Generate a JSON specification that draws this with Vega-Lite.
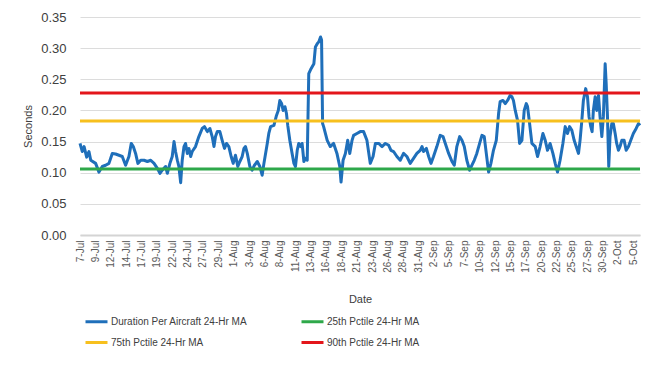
{
  "$schema": "https://vega.github.io/schema/vega-lite/v6.json",
  "width": 560,
  "height": 218,
  "autosize": {"type": "none"},
  "padding": {"left": 80, "top": 17, "right": 16, "bottom": 146},
  "background": "white",
  "config": {
    "font": "Liberation Sans",
    "view": {"stroke": null}
  },
  "datasets": {
    "duration": [
      {"hour":0,"seconds":0.147},{"hour":9,"seconds":0.134},{"hour":16,"seconds":0.142},{"hour":26,"seconds":0.125},{"hour":35,"seconds":0.134},{"hour":42,"seconds":0.120},{"hour":61,"seconds":0.115},{"hour":74,"seconds":0.101},{"hour":87,"seconds":0.110},{"hour":100,"seconds":0.112},
      {"hour":113,"seconds":0.115},{"hour":126,"seconds":0.131},{"hour":139,"seconds":0.130},{"hour":152,"seconds":0.128},{"hour":165,"seconds":0.126},{"hour":178,"seconds":0.112},{"hour":191,"seconds":0.126},{"hour":200,"seconds":0.147},{"hour":208,"seconds":0.142},{"hour":217,"seconds":0.131},
      {"hour":226,"seconds":0.115},{"hour":237,"seconds":0.120},{"hour":250,"seconds":0.120},{"hour":263,"seconds":0.118},{"hour":276,"seconds":0.120},{"hour":289,"seconds":0.115},{"hour":302,"seconds":0.107},{"hour":312,"seconds":0.099},{"hour":321,"seconds":0.104},{"hour":334,"seconds":0.110},
      {"hour":341,"seconds":0.099},{"hour":351,"seconds":0.115},{"hour":360,"seconds":0.126},{"hour":367,"seconds":0.150},{"hour":373,"seconds":0.134},{"hour":380,"seconds":0.120},{"hour":386,"seconds":0.110},{"hour":393,"seconds":0.084},{"hour":399,"seconds":0.120},{"hour":406,"seconds":0.142},
      {"hour":412,"seconds":0.147},{"hour":419,"seconds":0.131},{"hour":425,"seconds":0.139},{"hour":432,"seconds":0.126},{"hour":438,"seconds":0.134},{"hour":451,"seconds":0.142},{"hour":464,"seconds":0.158},{"hour":477,"seconds":0.171},{"hour":486,"seconds":0.174},{"hour":497,"seconds":0.166},
      {"hour":507,"seconds":0.171},{"hour":516,"seconds":0.158},{"hour":523,"seconds":0.142},{"hour":529,"seconds":0.158},{"hour":536,"seconds":0.166},{"hour":546,"seconds":0.166},{"hour":555,"seconds":0.152},{"hour":564,"seconds":0.139},{"hour":572,"seconds":0.147},{"hour":581,"seconds":0.142},
      {"hour":590,"seconds":0.126},{"hour":598,"seconds":0.115},{"hour":607,"seconds":0.128},{"hour":616,"seconds":0.110},{"hour":624,"seconds":0.118},{"hour":633,"seconds":0.126},{"hour":640,"seconds":0.139},{"hour":646,"seconds":0.142},{"hour":653,"seconds":0.131},{"hour":663,"seconds":0.110},
      {"hour":672,"seconds":0.104},{"hour":681,"seconds":0.112},{"hour":692,"seconds":0.118},{"hour":702,"seconds":0.110},{"hour":711,"seconds":0.096},{"hour":718,"seconds":0.115},{"hour":731,"seconds":0.147},{"hour":737,"seconds":0.163},{"hour":744,"seconds":0.174},{"hour":757,"seconds":0.176},
      {"hour":767,"seconds":0.192},{"hour":774,"seconds":0.200},{"hour":780,"seconds":0.216},{"hour":787,"seconds":0.211},{"hour":793,"seconds":0.200},{"hour":800,"seconds":0.206},{"hour":806,"seconds":0.195},{"hour":811,"seconds":0.176},{"hour":819,"seconds":0.152},{"hour":828,"seconds":0.131},
      {"hour":835,"seconds":0.115},{"hour":841,"seconds":0.110},{"hour":848,"seconds":0.136},{"hour":854,"seconds":0.147},{"hour":861,"seconds":0.142},{"hour":867,"seconds":0.147},{"hour":874,"seconds":0.118},{"hour":880,"seconds":0.123},{"hour":887,"seconds":0.120},{"hour":893,"seconds":0.259},
      {"hour":902,"seconds":0.267},{"hour":913,"seconds":0.275},{"hour":919,"seconds":0.302},{"hour":926,"seconds":0.307},{"hour":932,"seconds":0.310},{"hour":939,"seconds":0.318},{"hour":943,"seconds":0.313},{"hour":947,"seconds":0.179},{"hour":951,"seconds":0.174},{"hour":965,"seconds":0.152},
      {"hour":977,"seconds":0.142},{"hour":990,"seconds":0.147},{"hour":1003,"seconds":0.131},{"hour":1014,"seconds":0.110},{"hour":1019,"seconds":0.085},{"hour":1027,"seconds":0.120},{"hour":1036,"seconds":0.131},{"hour":1045,"seconds":0.152},{"hour":1053,"seconds":0.131},{"hour":1062,"seconds":0.152},
      {"hour":1068,"seconds":0.160},{"hour":1081,"seconds":0.163},{"hour":1094,"seconds":0.166},{"hour":1107,"seconds":0.166},{"hour":1120,"seconds":0.152},{"hour":1133,"seconds":0.115},{"hour":1144,"seconds":0.126},{"hour":1153,"seconds":0.147},{"hour":1166,"seconds":0.147},{"hour":1179,"seconds":0.142},
      {"hour":1192,"seconds":0.147},{"hour":1205,"seconds":0.144},{"hour":1214,"seconds":0.136},{"hour":1224,"seconds":0.134},{"hour":1237,"seconds":0.126},{"hour":1250,"seconds":0.120},{"hour":1263,"seconds":0.131},{"hour":1276,"seconds":0.126},{"hour":1289,"seconds":0.115},{"hour":1302,"seconds":0.123},
      {"hour":1315,"seconds":0.131},{"hour":1328,"seconds":0.136},{"hour":1335,"seconds":0.142},{"hour":1341,"seconds":0.134},{"hour":1352,"seconds":0.139},{"hour":1361,"seconds":0.126},{"hour":1370,"seconds":0.115},{"hour":1380,"seconds":0.126},{"hour":1393,"seconds":0.142},{"hour":1406,"seconds":0.160},
      {"hour":1417,"seconds":0.158},{"hour":1426,"seconds":0.147},{"hour":1439,"seconds":0.131},{"hour":1452,"seconds":0.118},{"hour":1461,"seconds":0.112},{"hour":1471,"seconds":0.142},{"hour":1482,"seconds":0.158},{"hour":1491,"seconds":0.152},{"hour":1500,"seconds":0.142},{"hour":1510,"seconds":0.120},
      {"hour":1521,"seconds":0.104},{"hour":1530,"seconds":0.112},{"hour":1539,"seconds":0.120},{"hour":1549,"seconds":0.131},{"hour":1560,"seconds":0.147},{"hour":1569,"seconds":0.160},{"hour":1578,"seconds":0.158},{"hour":1586,"seconds":0.131},{"hour":1595,"seconds":0.101},{"hour":1604,"seconds":0.115},
      {"hour":1614,"seconds":0.136},{"hour":1625,"seconds":0.152},{"hour":1634,"seconds":0.195},{"hour":1640,"seconds":0.214},{"hour":1651,"seconds":0.216},{"hour":1660,"seconds":0.211},{"hour":1669,"seconds":0.216},{"hour":1679,"seconds":0.224},{"hour":1686,"seconds":0.222},{"hour":1692,"seconds":0.216},
      {"hour":1699,"seconds":0.200},{"hour":1708,"seconds":0.184},{"hour":1716,"seconds":0.147},{"hour":1725,"seconds":0.152},{"hour":1734,"seconds":0.200},{"hour":1742,"seconds":0.211},{"hour":1747,"seconds":0.206},{"hour":1755,"seconds":0.179},{"hour":1764,"seconds":0.147},{"hour":1777,"seconds":0.142},
      {"hour":1786,"seconds":0.126},{"hour":1796,"seconds":0.142},{"hour":1807,"seconds":0.163},{"hour":1816,"seconds":0.152},{"hour":1825,"seconds":0.136},{"hour":1835,"seconds":0.147},{"hour":1846,"seconds":0.131},{"hour":1855,"seconds":0.115},{"hour":1864,"seconds":0.101},{"hour":1874,"seconds":0.120},
      {"hour":1885,"seconds":0.147},{"hour":1894,"seconds":0.174},{"hour":1903,"seconds":0.163},{"hour":1911,"seconds":0.174},{"hour":1920,"seconds":0.168},{"hour":1929,"seconds":0.152},{"hour":1937,"seconds":0.142},{"hour":1946,"seconds":0.131},{"hour":1952,"seconds":0.152},{"hour":1959,"seconds":0.184},
      {"hour":1965,"seconds":0.216},{"hour":1974,"seconds":0.235},{"hour":1981,"seconds":0.222},{"hour":1987,"seconds":0.190},{"hour":1994,"seconds":0.174},{"hour":1999,"seconds":0.166},{"hour":2004,"seconds":0.200},{"hour":2011,"seconds":0.222},{"hour":2017,"seconds":0.200},{"hour":2024,"seconds":0.224},
      {"hour":2030,"seconds":0.190},{"hour":2037,"seconds":0.158},{"hour":2043,"seconds":0.190},{"hour":2050,"seconds":0.275},{"hour":2054,"seconds":0.243},{"hour":2059,"seconds":0.190},{"hour":2064,"seconds":0.110},{"hour":2069,"seconds":0.158},{"hour":2076,"seconds":0.179},{"hour":2082,"seconds":0.179},
      {"hour":2089,"seconds":0.163},{"hour":2095,"seconds":0.147},{"hour":2102,"seconds":0.136},{"hour":2108,"seconds":0.142},{"hour":2115,"seconds":0.152},{"hour":2124,"seconds":0.152},{"hour":2132,"seconds":0.136},{"hour":2141,"seconds":0.142},{"hour":2150,"seconds":0.152},{"hour":2160,"seconds":0.163},
      {"hour":2171,"seconds":0.171},{"hour":2180,"seconds":0.179},{"hour":2186,"seconds":0.176}
    ],
    "thresholds": [
      {"series":"25th Pctile 24-Hr MA","hour":0,"seconds":0.106},
      {"series":"25th Pctile 24-Hr MA","hour":2186,"seconds":0.106},
      {"series":"75th Pctile 24-Hr MA","hour":0,"seconds":0.183},
      {"series":"75th Pctile 24-Hr MA","hour":2186,"seconds":0.183},
      {"series":"90th Pctile 24-Hr MA","hour":0,"seconds":0.228},
      {"series":"90th Pctile 24-Hr MA","hour":2186,"seconds":0.228}
    ]
  },
  "encoding": {
    "x": {
      "field": "hour",
      "type": "quantitative",
      "scale": {"domain": [0, 2186], "nice": false, "zero": false},
      "axis": {
        "title": "Date",
        "values": [0,60,120,180,240,300,360,420,480,540,600,660,720,780,840,900,960,1020,1080,1140,1200,1260,1320,1380,1440,1500,1560,1620,1680,1740,1800,1860,1920,1980,2040,2100,2160],
        "labelExpr": "timeFormat(datetime(2019, 6, 7, datum.value), '%-d-%b')",
        "labelAngle": -90,
        "labelFontSize": 10,
        "labelColor": "#595959",
        "labelPadding": 5,
        "labelOverlap": false,
        "labelBound": false,
        "labelFlush": false,
        "ticks": false,
        "grid": false,
        "domain": true,
        "domainColor": "#d4d4d4",
        "domainWidth": 2,
        "titleFontSize": 11,
        "titleFontWeight": "normal",
        "titleColor": "#404040",
        "titlePadding": 21
      }
    },
    "y": {
      "field": "seconds",
      "type": "quantitative",
      "scale": {"domain": [0, 0.35], "nice": false},
      "axis": {
        "title": "Seconds",
        "values": [0, 0.05, 0.1, 0.15, 0.2, 0.25, 0.3, 0.35],
        "format": ".2f",
        "labelFontSize": 13,
        "labelColor": "#404040",
        "labelPadding": 14,
        "ticks": false,
        "domain": false,
        "grid": true,
        "gridColor": "#dcdcdc",
        "gridWidth": 1,
        "titleFontSize": 11,
        "titleFontWeight": "normal",
        "titleColor": "#404040",
        "titlePadding": 7
      }
    }
  },
  "layer": [
    {
      "data": {"name": "duration"},
      "mark": {"type": "line", "strokeWidth": 3, "strokeJoin": "round"},
      "encoding": {
        "color": {"datum": "Duration Per Aircraft 24-Hr MA", "type": "nominal"}
      }
    },
    {
      "data": {"name": "thresholds"},
      "mark": {"type": "line", "strokeWidth": 3},
      "encoding": {
        "color": {
          "field": "series",
          "type": "nominal",
          "scale": {
            "domain": ["Duration Per Aircraft 24-Hr MA", "75th Pctile 24-Hr MA", "25th Pctile 24-Hr MA", "90th Pctile 24-Hr MA"],
            "range": ["#1F6FBA", "#F7C01E", "#2EA84A", "#E3161B"]
          },
          "legend": {
            "title": null,
            "orient": "none",
            "legendX": 4,
            "legendY": 292,
            "columns": 2,
            "columnPadding": 47,
            "rowPadding": 2,
            "symbolType": "stroke",
            "symbolSize": 484,
            "symbolStrokeWidth": 3,
            "labelFontSize": 10,
            "labelColor": "#404040",
            "labelOffset": 2,
            "labelLimit": 300
          }
        }
      }
    }
  ]
}
